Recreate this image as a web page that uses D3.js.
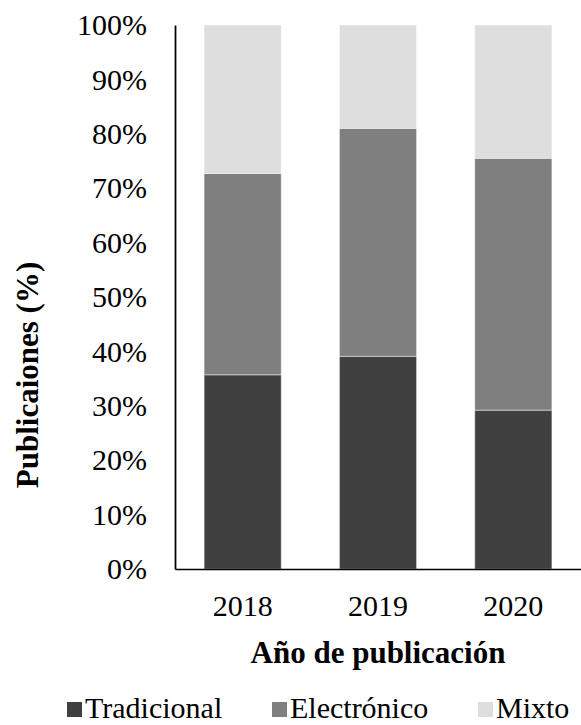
<!DOCTYPE html>
<html>
<head>
<meta charset="utf-8">
<script src="https://cdn.jsdelivr.net/npm/d3@7"></script>
<style>
  html, body { margin: 0; padding: 0; background: #fff; }
  svg { display: block; }
  svg text { font-family: "Liberation Serif", "Times New Roman", Times, serif; }
</style>
</head>
<body>
<svg id="chart" width="581" height="725"></svg>
<script>
// Share of publications by format, per year (percent)
const years = ["2018", "2019", "2020"];
const seriesNames = ["Tradicional", "Electrónico", "Mixto"];
const tradicional = [35.7, 39.1, 29.2];
const electronico = [37.0, 41.9, 46.3];
const mixto = [27.3, 19.0, 24.5];
const yTicks = [0, 10, 20, 30, 40, 50, 60, 70, 80, 90, 100];
const colors = ["#404040", "#7f7f7f", "#dedede"];

const rows = years.map((yr, i) => ({
  year: yr,
  "Tradicional": tradicional[i],
  "Electrónico": electronico[i],
  "Mixto": mixto[i]
}));

const svg = d3.select("#chart");
const plotLeft = 175, plotRight = 581, plotTop = 25, plotBottom = 569;

const x = d3.scaleBand().domain(years).range([plotLeft, plotRight])
  .paddingInner(0.43).paddingOuter(0.215);
const y = d3.scaleLinear().domain([0, 100]).range([plotBottom, plotTop]);
const color = d3.scaleOrdinal().domain(seriesNames).range(colors);

const stacked = d3.stack().keys(seriesNames)(rows);

// stacked bars, one group per series
svg.append("g").selectAll("g").data(stacked).join("g")
  .attr("fill", d => color(d.key))
  .selectAll("rect").data(d => d).join("rect")
  .attr("x", d => x(d.data.year))
  .attr("width", x.bandwidth())
  .attr("y", d => y(d[1]))
  .attr("height", d => y(d[0]) - y(d[1]))
  .attr("stroke", "#ffffff")
  .attr("stroke-opacity", 0.45)
  .attr("stroke-width", 1);

// y axis: percentage labels, no tick marks
const yAxis = svg.append("g").attr("transform", `translate(${plotLeft},0)`)
  .call(d3.axisLeft(y).tickValues(yTicks).tickFormat(d => d + "%")
    .tickSize(0).tickSizeOuter(0).tickPadding(28));
yAxis.attr("font-family", null);
yAxis.select(".domain").attr("stroke", "#000").attr("stroke-width", 1.75);
yAxis.selectAll("text").attr("font-size", 30).attr("fill", "#000");

// x axis: years
const xAxis = svg.append("g").attr("transform", `translate(0,${plotBottom})`)
  .call(d3.axisBottom(x).tickSize(0).tickSizeOuter(0).tickPadding(26));
xAxis.attr("font-family", null);
xAxis.select(".domain").attr("stroke", "#000").attr("stroke-width", 1.5);
xAxis.selectAll("text").attr("font-size", 30).attr("fill", "#000");

// axis titles
svg.append("text")
  .attr("x", 378).attr("y", 663)
  .attr("text-anchor", "middle")
  .attr("font-size", 31).attr("font-weight", "bold")
  .text("Año de publicación");

svg.append("text")
  .attr("transform", "translate(38,375) rotate(-90)")
  .attr("text-anchor", "middle")
  .attr("font-size", 31).attr("font-weight", "bold")
  .text("Publicaiones (%)");

// legend along the bottom
const legendX = [67, 272, 478];
const legend = svg.append("g").selectAll("g").data(seriesNames).join("g")
  .attr("transform", (d, i) => `translate(${legendX[i]},0)`);
legend.append("rect")
  .attr("x", 0).attr("y", 702).attr("width", 15).attr("height", 15)
  .attr("fill", d => color(d));
legend.append("text")
  .attr("x", 18).attr("y", 718)
  .attr("font-size", 30)
  .text(d => d);
</script>
</body>
</html>
